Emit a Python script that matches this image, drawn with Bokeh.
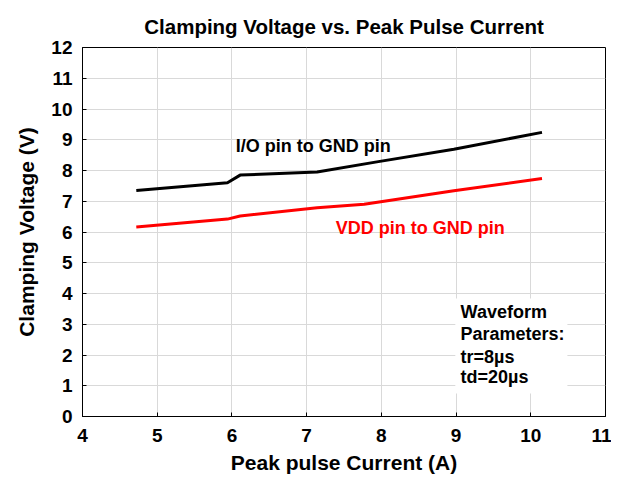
from bokeh.plotting import figure
from bokeh.models import Range1d, Label, FixedTicker, BoxAnnotation
from bokeh.embed import file_html
from bokeh.resources import INLINE

io_x = [4.72, 5.94, 6.11, 7.14, 7.94, 8.97, 10.15]
io_y = [7.35, 7.60, 7.85, 7.95, 8.28, 8.69, 9.24]
vdd_x = [4.72, 5.94, 6.11, 7.14, 7.77, 8.97, 10.15]
vdd_y = [6.16, 6.42, 6.52, 6.79, 6.90, 7.34, 7.74]

x_ticks = [4, 5, 6, 7, 8, 9, 10, 11]
y_ticks = list(range(0, 13))

FONT = "Liberation Sans"

p = figure(frame_width=523, frame_height=369, output_backend="svg", toolbar_location=None,
           x_range=Range1d(4, 11), y_range=Range1d(0, 12),
           min_border_left=82, min_border_right=6, min_border_top=47, min_border_bottom=58,
           title="Clamping Voltage vs. Peak Pulse Current")
p.title.align = "center"
p.title.text_font = FONT
p.title.text_font_size = "20.5px"
p.title.text_font_style = "bold"
p.title.text_color = "black"
p.title.standoff = 20

p.outline_line_color = "black"
p.outline_line_width = 1
p.background_fill_color = "white"
p.border_fill_color = "white"

p.xgrid.grid_line_color = "#d9d9d9"
p.ygrid.grid_line_color = "#d9d9d9"
p.xgrid.grid_line_width = 1
p.ygrid.grid_line_width = 1

p.xaxis.ticker = FixedTicker(ticks=x_ticks)
p.yaxis.ticker = FixedTicker(ticks=y_ticks)
for ax in (p.xaxis, p.yaxis):
    ax.major_label_text_font = FONT
    ax.major_label_text_font_size = "19px"
    ax.major_label_text_font_style = "bold"
    ax.major_label_text_color = "black"
    ax.axis_label_text_font = FONT
    ax.axis_label_text_font_size = "21px"
    ax.axis_label_text_font_style = "bold"
    ax.axis_label_text_color = "black"
    ax.axis_line_color = "black"
    ax.major_tick_in = 4
    ax.major_tick_out = 0
    ax.major_tick_line_color = "black"
    ax.minor_tick_line_color = None
p.xaxis.axis_label = "Peak pulse Current (A)"
p.yaxis.axis_label = "Clamping Voltage (V)"
p.xaxis.major_label_standoff = 12
p.yaxis.major_label_standoff = 10
p.xaxis.axis_label_standoff = 6
p.yaxis.axis_label_standoff = 10

p.line(io_x, io_y, line_color="black", line_width=3)
p.line(vdd_x, vdd_y, line_color="#ff0000", line_width=3)

p.add_layout(Label(x=6.05, y=8.79, text="I/O pin to GND pin", text_font=FONT,
                   text_font_size="18px", text_font_style="bold", text_color="black",
                   text_baseline="middle"))
p.add_layout(Label(x=7.39, y=6.12, text="VDD pin to GND pin", text_font=FONT,
                   text_font_size="18px", text_font_style="bold", text_color="#ff0000",
                   text_baseline="middle"))

p.add_layout(BoxAnnotation(left=8.99, right=10.49, bottom=0.75, top=3.84,
                           fill_color="white", fill_alpha=1.0, line_color=None))
lines = ["Waveform", "Parameters:", "tr=8\u00b5s", "td=20\u00b5s"]
ys = [3.39, 2.67, 1.95, 1.27]
for t, yy in zip(lines, ys):
    p.add_layout(Label(x=9.06, y=yy, text=t, text_font=FONT, text_font_size="18px",
                       text_font_style="bold", text_color="black", text_baseline="middle"))

open("out.html", "w").write(file_html(p, INLINE))
